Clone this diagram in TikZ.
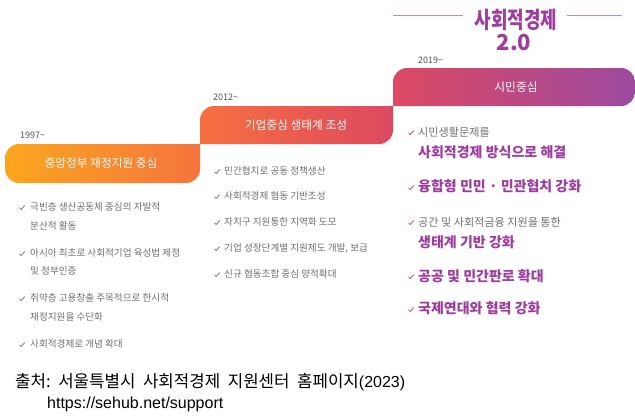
\documentclass[tikz,border=0pt]{standalone}
\usepackage{fontspec}
\setmainfont{Noto Sans CJK KR}
\newfontfamily\urlfont{Liberation Sans}
\definecolor{bal}{HTML}{FBA61F}
\definecolor{bar}{HTML}{F5743E}
\definecolor{bbl}{HTML}{F6703F}
\definecolor{bbr}{HTML}{DD4861}
\definecolor{bcl}{HTML}{DD4963}
\definecolor{bcr}{HTML}{9C4AA0}
\definecolor{ttl}{HTML}{9E3D9F}
\definecolor{ttline}{HTML}{C38AC5}
\definecolor{gtxt}{HTML}{707070}
\definecolor{ytxt}{HTML}{555555}
\definecolor{chkred}{HTML}{E2304A}
\newcommand\ckm[3]{\draw[shift={(#1,#2)},#3,line width=0.7bp,line cap=round,line join=round] (-2.4,-0.2) -- (-0.9,1.5) -- (2.6,-2.3);}
\tikzset{
  bandtxt/.style={inner sep=0,text=white,font=\fontsize{11.7bp}{13bp}\selectfont},
  yeartxt/.style={anchor=west,inner sep=0,text=ytxt,font=\fontsize{9bp}{11bp}\selectfont},
  listtxt/.style={anchor=west,inner sep=0,text=gtxt,font=\fontsize{9.6bp}{11bp}\selectfont},
  smalltxt/.style={anchor=west,inner sep=0,text=gtxt,font=\fontsize{11.1bp}{13bp}\selectfont},
  bigtxt/.style={anchor=west,inner sep=0,text=ttl,font=\fontsize{14bp}{16bp}\bfseries},
}
\begin{document}
\begin{tikzpicture}[x=1bp,y=-1bp]
\useasboundingbox[fill=white] (0,0) rectangle (635,416);
% bands
\path[left color=bal,right color=bar] (200,144) -- (200,169) .. controls (200,176.73) and (193.73,183) .. (186,183) -- (19,183) .. controls (11.27,183) and (5,176.73) .. (5,169) -- (5,158) .. controls (5,150.27) and (11.27,144) .. (19,144) -- cycle;
\path[left color=bbl,right color=bbr] (200,144) -- (200,120) .. controls (200,112.27) and (206.27,106) .. (214,106) -- (393,106) -- (393,130) .. controls (393,137.73) and (386.73,144) .. (379,144) -- cycle;
\path[left color=bcl,right color=bcr] (393,106) -- (393,82) .. controls (393,74.27) and (399.27,68) .. (407,68) -- (621,68) .. controls (628.73,68) and (635,74.27) .. (635,82) -- (635,92) .. controls (635,99.73) and (628.73,106) .. (621,106) -- cycle;
\node[bandtxt] (b1) at (101,163.5) {중앙정부 재정지원 중심};
\node[bandtxt] (b2) at (296,125) {기업중심 생태계 조성};
\node[bandtxt] (b3) at (516,87) {시민중심};
% years
\node[yeartxt] (y1) at (20,135) {1997\textasciitilde};
\node[yeartxt] (y2) at (213,97) {2012\textasciitilde};
\node[yeartxt] (y3) at (418,60) {2019\textasciitilde};
% title
\node[inner sep=0,text=ttl,font=\fontsize{23bp}{25bp}\bfseries] (t1) at (516,20) {\scalebox{0.78}[1]{사회적경제}};
\node[inner sep=0,text=ttl,font=\fontsize{22bp}{24bp}\bfseries] (t2) at (514,43) {2.0};
\coordinate (la) at (393,15);
\coordinate (lb) at (463,15);
\coordinate (lc) at (567,15);
\coordinate (ld) at (622,15);
\draw[ttline,line width=0.9bp] (la) -- (lb);
\draw[ttline,line width=0.9bp] (lc) -- (ld);
% list 1
\ckm{22}{208}{gtxt}
\node[listtxt] (a1) at (30,207) {극빈층 생산공동체 중심의 자발적};
\node[listtxt] (a1b) at (30,226) {분산적 활동};
\ckm{22}{254}{gtxt}
\node[listtxt] (a2) at (30,253) {아시아 최초로 사회적기업 육성법 제정};
\node[listtxt] (a2b) at (30,271) {및 정부인증};
\ckm{22}{299}{gtxt}
\node[listtxt] (a3) at (30,298) {취약층 고용창출 주목적으로 한시적};
\node[listtxt] (a3b) at (30,317) {재정지원을 수단화};
\ckm{22}{345}{gtxt}
\node[listtxt] (a4) at (30,344) {사회적경제로 개념 확대};
% list 2
\ckm{217}{172}{gtxt}
\node[listtxt] (c1) at (224,171) {민간협치로 공동 정책생산};
\ckm{217}{197}{gtxt}
\node[listtxt] (c2) at (224,196) {사회적경제 협동 기반조성};
\ckm{217}{223}{gtxt}
\node[listtxt] (c3) at (224,222) {자치구 지원통한 지역화 도모};
\ckm{217}{249}{gtxt}
\node[listtxt] (c4) at (224,248) {기업 성장단계별 지원제도 개발, 보급};
\ckm{217}{275}{gtxt}
\node[listtxt] (c5) at (224,274) {신규 협동조합 중심 양적확대};
% list 3
\ckm{411}{133}{chkred}
\node[smalltxt] (d1) at (418,132) {시민생활문제를};
\node[bigtxt] (d1b) at (418,152) {사회적경제 방식으로 해결};
\ckm{411}{188}{chkred}
\node[bigtxt] (d2) at (418,186) {융합형 민민 · 민관협치 강화};
\ckm{411}{223}{chkred}
\node[smalltxt] (d3) at (418,222) {공간 및 사회적금융 지원을 통한};
\node[bigtxt] (d3b) at (418,242) {생태계 기반 강화};
\ckm{411}{277}{chkred}
\node[bigtxt] (d4) at (418,276) {공공 및 민간판로 확대};
\ckm{411}{310}{chkred}
\node[bigtxt] (d5) at (418,308) {국제연대와 협력 강화};
% footer
\node[anchor=west,inner sep=0,text=black,font=\fontsize{16.8bp}{18bp}\selectfont\frenchspacing] (f1) at (15,382) {\makebox[390bp][s]{출처: 서울특별시 사회적경제 지원센터 홈페이지{\urlfont\fontsize{16bp}{17bp}\selectfont(2023)}}};
\node[anchor=west,inner sep=0,text=black,font=\fontsize{16bp}{17bp}\urlfont] (f2) at (47,404) {https://sehub.net/support};
\end{tikzpicture}
\end{document}
